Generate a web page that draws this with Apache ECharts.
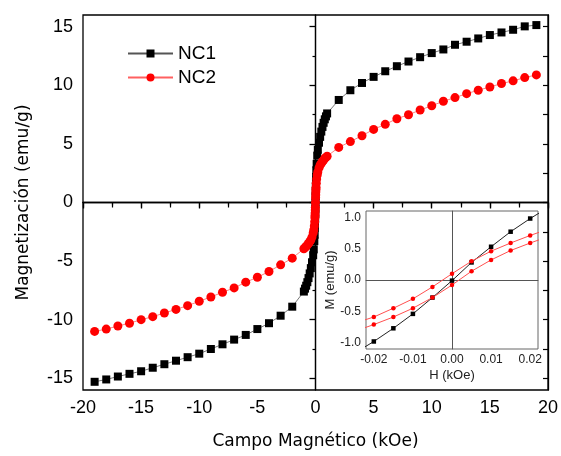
<!DOCTYPE html>
<html>
<head>
<meta charset="utf-8">
<script src="https://cdn.jsdelivr.net/npm/echarts@6/dist/echarts.min.js"></script>
<style>
html,body{margin:0;padding:0;background:#fff;}
#chart{width:561px;height:456px;}
</style>
</head>
<body>
<div id="chart"></div>
<script>
// ---- Main plot data (field in kOe, magnetization in emu/g) ----
const fieldMain = [-19,-18,-17,-16,-15,-14,-13,-12,-11,-10,-9,-8,-7,-6,-5,-4,-3,-2,-1,
  -0.9,-0.8,-0.7,-0.6,-0.5,-0.4,-0.3,-0.2,-0.15,-0.1,-0.07,-0.05,-0.04,-0.03,-0.02,-0.01,
  0,
  0.01,0.02,0.03,0.04,0.05,0.07,0.1,0.15,0.2,0.3,0.4,0.5,0.6,0.7,0.8,0.9,
  1,2,3,4,5,6,7,8,9,10,11,12,13,14,15,16,17,18,19];
const magNC1 = [-15.3,-15.1,-14.85,-14.62,-14.4,-14.1,-13.8,-13.5,-13.2,-12.9,-12.5,-12.1,-11.7,-11.3,-10.8,-10.3,-9.66,-8.89,-7.6,
  -7.35,-7.1,-6.8,-6.45,-6.05,-5.6,-5.1,-4.5,-4.0,-3.3,-2.75,-2.15,-1.8,-1.4,-0.97,-0.53,
  0,
  0.53,0.97,1.4,1.8,2.15,2.75,3.3,4.0,4.5,5.1,5.6,6.05,6.45,6.8,7.1,7.35,
  7.6,8.75,9.58,10.2,10.72,11.2,11.63,12.03,12.4,12.75,13.06,13.46,13.72,14.0,14.29,14.51,14.74,15.03,15.14];
const magNC2 = [-11.0,-10.8,-10.54,-10.3,-10.0,-9.74,-9.43,-9.12,-8.8,-8.43,-8.06,-7.66,-7.29,-6.8,-6.38,-5.89,-5.32,-4.75,-3.95,
  -3.85,-3.75,-3.62,-3.5,-3.35,-3.2,-2.95,-2.6,-2.35,-2.0,-1.65,-1.3,-1.1,-0.9,-0.65,-0.4,
  0,
  0.4,0.65,0.9,1.1,1.3,1.65,2.0,2.35,2.6,2.95,3.2,3.35,3.5,3.62,3.75,3.85,
  3.95,4.7,5.2,5.7,6.24,6.67,7.15,7.49,7.89,8.26,8.64,8.95,9.29,9.58,9.86,10.15,10.38,10.66,10.89];

// ---- Inset data (field in kOe, M in emu/g) ----
const fieldInset = [-0.025,-0.02,-0.015,-0.01,-0.005,0,0.005,0.01,0.015,0.02,0.025];
const insetNC1 = [-1.17,-0.98,-0.77,-0.54,-0.28,-0.01,0.28,0.53,0.77,0.98,1.17];
const insetNC2Upper = [-0.69,-0.59,-0.45,-0.30,-0.11,0.10,0.30,0.46,0.59,0.71,0.82];
const insetNC2Lower = [-0.82,-0.71,-0.59,-0.45,-0.28,-0.08,0.14,0.32,0.47,0.59,0.70];

// ---- Tick values ----
const mainYTicks = [-15,-10,-5,0,5,10,15];
const mainYMinorTicks = [-12.5,-7.5,-2.5,2.5,7.5,12.5];
const mainYRightTicks = [-15,-12.5,-10,-7.5,-5,-2.5,0,2.5,5,7.5,10,12.5,15];
const insetXTicks = [-0.02,-0.01,0,0.01,0.02];
const insetYTicks = [-1.0,-0.5,0.0,0.5,1.0];

const zip = (xs, ys) => xs.map((x, i) => [x, ys[i]]);

const BLACK = '#000';
const tickFont = 'Liberation Sans, Arial, sans-serif';
const titleFont = 'DejaVu Sans, Verdana, sans-serif';

const chart = echarts.init(document.getElementById('chart'), null, {renderer: 'canvas'});
const option = {
  animation: false,
  backgroundColor: '#fff',
  legend: {
    data: ['NC1', 'NC2'],
    orient: 'vertical',
    left: 122, top: 39,
    itemWidth: 45, itemHeight: 10, itemGap: 5,
    textStyle: {fontFamily: tickFont, fontSize: 19, color: BLACK},
    selectedMode: false
  },
  grid: [
    {left: 83, top: 15, right: 11, bottom: 66, show: true, borderColor: BLACK, borderWidth: 1.3},
    {left: 366, top: 211, width: 172, height: 138, show: true, borderColor: '#666', borderWidth: 1, backgroundColor: '#fff', z: 3}
  ],
  xAxis: [
    {
      gridIndex: 0, type: 'value', position: 'bottom', min: -20, max: 20, interval: 5,
      axisLine: {show: true, lineStyle: {color: BLACK, width: 1.3}},
      axisTick: {show: true, inside: false, length: 6, lineStyle: {color: BLACK, width: 1.3}},
      minorTick: {show: true, splitNumber: 2, length: 3, lineStyle: {color: BLACK, width: 1.2}},
      axisLabel: {fontFamily: tickFont, fontSize: 18, color: BLACK, margin: 9},
      splitLine: {show: false},
      name: 'Campo Magnético (kOe)', nameLocation: 'middle', nameGap: 43,
      nameTextStyle: {fontFamily: titleFont, fontSize: 17, color: BLACK}
    },
    {
      gridIndex: 0, type: 'value', position: 'top', min: -20, max: 20, interval: 2.5,
      axisLine: {show: true, lineStyle: {color: BLACK, width: 1.3}},
      axisTick: {show: true, inside: true, length: 5, lineStyle: {color: BLACK, width: 1.2}},
      axisLabel: {show: false}, splitLine: {show: false}
    },
    {
      gridIndex: 1, type: 'value', min: -0.022, max: 0.022,
      axisLine: {show: true, lineStyle: {color: '#666', width: 1}},
      axisTick: {show: true, customValues: insetXTicks, length: 3, lineStyle: {color: '#666'}},
      axisLabel: {customValues: insetXTicks, formatter: v => v.toFixed(2), fontFamily: tickFont, fontSize: 12, color: '#222', margin: 5},
      splitLine: {show: false},
      name: 'H (kOe)', nameLocation: 'middle', nameGap: 20,
      nameTextStyle: {fontFamily: tickFont, fontSize: 13, color: '#222'}
    }
  ],
  yAxis: [
    {
      gridIndex: 0, type: 'value', position: 'left', min: -16, max: 16,
      axisLine: {show: true, lineStyle: {color: BLACK, width: 1.3}},
      axisTick: {show: true, customValues: mainYTicks, length: 6, lineStyle: {color: BLACK, width: 1.3}},
      axisLabel: {customValues: mainYTicks, fontFamily: tickFont, fontSize: 18, color: BLACK, margin: 10},
      splitLine: {show: false},
      name: 'Magnetización (emu/g)', nameLocation: 'middle', nameGap: 51,
      nameTextStyle: {fontFamily: titleFont, fontSize: 17, color: BLACK}
    },
    {
      gridIndex: 0, type: 'value', position: 'left', min: -16, max: 16,
      axisLine: {show: false},
      axisTick: {show: true, customValues: mainYMinorTicks, length: 3, lineStyle: {color: BLACK, width: 1.2}},
      axisLabel: {show: false}, splitLine: {show: false}
    },
    {
      gridIndex: 0, type: 'value', position: 'right', min: -16, max: 16,
      axisLine: {show: true, lineStyle: {color: BLACK, width: 1.3}},
      axisTick: {show: true, inside: true, customValues: mainYRightTicks, length: 5, lineStyle: {color: BLACK, width: 1.2}},
      axisLabel: {show: false}, splitLine: {show: false}
    },
    {
      gridIndex: 1, type: 'value', min: -1.1, max: 1.1,
      axisLine: {show: true, lineStyle: {color: '#666', width: 1}},
      axisTick: {show: true, customValues: insetYTicks, length: 3, lineStyle: {color: '#666'}},
      axisLabel: {customValues: insetYTicks, formatter: v => v.toFixed(1), fontFamily: tickFont, fontSize: 12, color: '#222', margin: 5},
      splitLine: {show: false},
      name: 'M (emu/g)', nameLocation: 'middle', nameGap: 20,
      nameTextStyle: {fontFamily: tickFont, fontSize: 13, color: '#222'}
    }
  ],
  series: [
    {
      name: 'NC1', type: 'line', xAxisIndex: 0, yAxisIndex: 0,
      data: zip(fieldMain, magNC1),
      symbol: 'rect', symbolSize: 8, showAllSymbol: true,
      itemStyle: {color: BLACK},
      lineStyle: {color: '#555', width: 0.8},
      z: 3,
      markLine: {
        silent: true, symbol: 'none', z: 1, label: {show: false},
        lineStyle: {color: BLACK, width: 1.2, type: 'solid'},
        data: [{xAxis: 0}, {yAxis: 0}]
      }
    },
    {
      name: 'NC2', type: 'line', xAxisIndex: 0, yAxisIndex: 0,
      data: zip(fieldMain, magNC2),
      symbol: 'circle', symbolSize: 9, showAllSymbol: true,
      itemStyle: {color: '#ff0000'},
      lineStyle: {color: '#ff6060', width: 0.8},
      z: 4
    },
    {
      name: 'NC1 inset', type: 'line', xAxisIndex: 2, yAxisIndex: 3,
      data: zip(fieldInset, insetNC1), clip: true,
      symbol: 'rect', symbolSize: 4.5, showAllSymbol: true,
      itemStyle: {color: BLACK}, lineStyle: {color: '#222', width: 1},
      z: 6,
      markLine: {
        silent: true, symbol: 'none', z: 5, label: {show: false},
        lineStyle: {color: '#555', width: 1, type: 'solid'},
        data: [{xAxis: 0}, {yAxis: 0}]
      }
    },
    {
      name: 'NC2 inset up', type: 'line', xAxisIndex: 2, yAxisIndex: 3,
      data: zip(fieldInset, insetNC2Upper), clip: true,
      symbol: 'circle', symbolSize: 4.5, showAllSymbol: true,
      itemStyle: {color: '#ff0000'}, lineStyle: {color: '#ff5050', width: 1},
      z: 7
    },
    {
      name: 'NC2 inset down', type: 'line', xAxisIndex: 2, yAxisIndex: 3,
      data: zip(fieldInset, insetNC2Lower), clip: true,
      symbol: 'circle', symbolSize: 4.5, showAllSymbol: true,
      itemStyle: {color: '#ff0000'}, lineStyle: {color: '#ff5050', width: 1},
      z: 7
    }
  ]
};
chart.setOption(option);
</script>
</body>
</html>
